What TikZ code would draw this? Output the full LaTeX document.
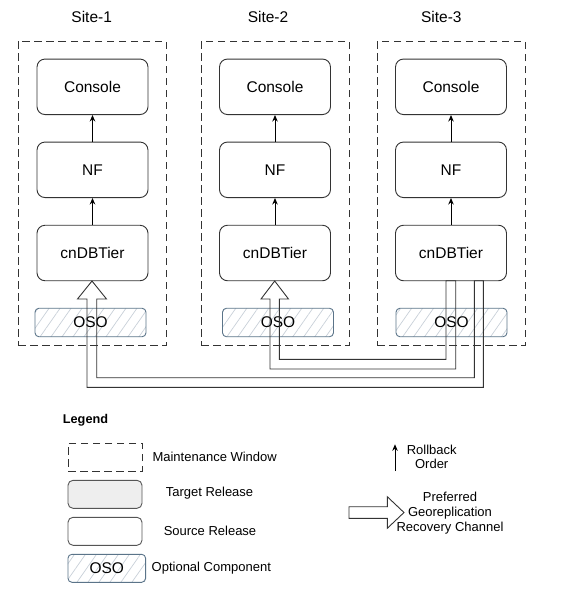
\documentclass[tikz,border=0pt]{standalone}
\usepackage{fontspec}
\setmainfont{Liberation Sans}
\usetikzlibrary{arrows.meta,patterns.meta,calc}
\definecolor{boxline}{HTML}{333333}
\definecolor{legline}{HTML}{555555}
\definecolor{osoline}{HTML}{5B7489}
\definecolor{osohatch}{HTML}{C8D0D8}
\definecolor{tgtfill}{HTML}{EEEEEE}
\tikzset{
  bigtext/.style={font=\fontsize{15.5}{18}\selectfont},
  smalltext/.style={font=\fontsize{13}{15}\selectfont},
  winbox/.style={draw=boxline, line width=0.9pt, dash pattern=on 7.5pt off 4.5pt, minimum width=148pt, minimum height=304pt, inner sep=0pt},
  compbox/.style={draw=boxline, line width=0.9pt, rounded corners=8pt, fill=white, minimum width=111pt, minimum height=55.5pt, inner sep=0pt, bigtext},
  osobox/.style={draw=osoline, line width=0.9pt, rounded corners=4pt, pattern={Lines[angle=55,distance=9pt,line width=0.7pt]}, pattern color=osohatch, minimum width=111pt, minimum height=28.5pt, inner sep=0pt, bigtext},
  rollarrow/.style={draw=black, line width=0.9pt, -{Stealth[length=6.5pt,width=5.5pt]}},
  hollow/.style={draw=boxline, line width=0.9pt, line join=miter},
  title/.style={bigtext}
}
\begin{document}
\begin{tikzpicture}[x=1pt,y=-1pt]
\useasboundingbox (0,0) rectangle (562,598);
% titles
\node[title] (t1) at (91.7,17) {Site-1};
\node[title] (t2) at (268,17) {Site-2};
\node[title] (t3) at (441.3,17) {Site-3};
% maintenance windows
\node[winbox] (w1) at (92,193) {};
\node[winbox] (w2) at (275,193) {};
\node[winbox] (w3) at (451,193) {};
% components
\foreach \i/\x/\ox in {1/92.5/90.5, 2/275/278, 3/451/451.5}{
  \node[compbox] (con\i) at (\x,86.8) {Console};
  \node[compbox] (nf\i) at (\x,169.8) {NF};
  \node[compbox] (db\i) at (\x,253) {cnDBTier};
  \node[osobox] (oso\i) at (\ox,322.5) {OSO};
  \draw[rollarrow] (nf\i) -- (con\i);
  \draw[rollarrow] (db\i) -- (nf\i);
}
% preferred georeplication channels
\draw[hollow] (474.3,280.7) -- (474.3,377.7) -- (96.7,377.7) -- (96.7,299) -- (106.5,299)
  -- (92,281) -- (77.5,299) -- (87,299) -- (87,387.3) -- (483.3,387.3) -- (483.3,280.7) -- cycle;
\draw[hollow] (446,280.7) -- (446,359.3) -- (279.3,359.3) -- (279.3,299) -- (288.5,299)
  -- (274.7,281) -- (261,299) -- (270,299) -- (270,369) -- (455.7,369) -- (455.7,280.7) -- cycle;
% legend
\node[font=\fontsize{12.7}{15}\selectfont\bfseries] (lg) at (85.5,420.7) {Legend};
\node[draw=boxline, line width=0.9pt, dash pattern=on 7.5pt off 4.5pt, minimum width=74pt, minimum height=28pt, inner sep=0pt] (lmw) at (105,457) {};
\node[smalltext] (lmwt) at (214.7,456.7) {Maintenance Window};
\node[draw=legline, line width=0.9pt, rounded corners=5pt, fill=tgtfill, minimum width=74pt, minimum height=28pt, inner sep=0pt] (ltr) at (105,494.3) {};
\node[smalltext] (ltrt) at (209.5,493.3) {Target Release};
\node[draw=legline, line width=0.9pt, rounded corners=5pt, fill=white, minimum width=74pt, minimum height=28pt, inner sep=0pt] (lsr) at (105,531.3) {};
\node[smalltext] (lsrt) at (210,530.7) {Source Release};
\node[osobox, minimum width=77.7pt, minimum height=28pt] (loso) at (106.8,568.3) {OSO};
\node[smalltext] (losot) at (211.3,567.7) {Optional Component};
\coordinate (rbs) at (395,471);
\coordinate (rbe) at (395,444.3);
\draw[rollarrow] (rbs) -- (rbe);
\node[smalltext, align=center] (rbt) at (431.7,457.2) {Rollback\\[-1pt]Order};
\draw[hollow] (349,506.7) -- (387.3,506.7) -- (387.3,496.7) -- (404,512.5) -- (387.3,528.3)
  -- (387.3,518.3) -- (349,518.3) -- cycle;
\node[smalltext, align=center] (pgt) at (450,512.7) {Preferred\\Georeplication\\Recovery Channel};
\end{tikzpicture}
\end{document}
